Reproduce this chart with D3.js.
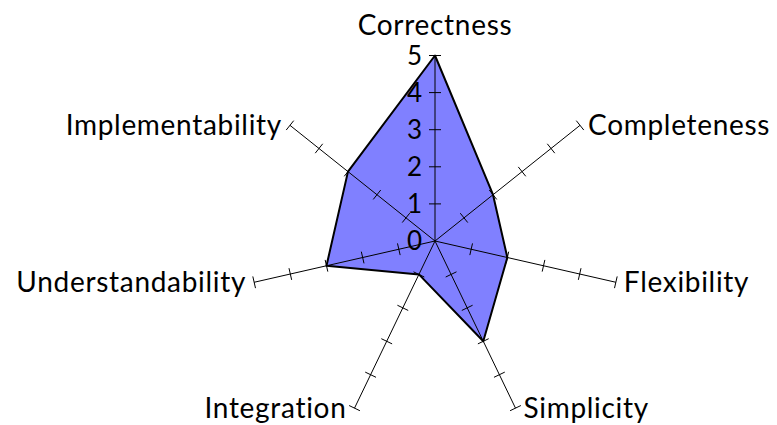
<!DOCTYPE html>
<html>
<head>
<meta charset="utf-8">
<script src="https://cdn.jsdelivr.net/npm/d3@7"></script>
<style>
  body { margin: 0; background: #fff; }
  text { font-family: "Lato", "DejaVu Sans", sans-serif; font-weight: 400; fill: #000; }
</style>
</head>
<body>
<script>
var categories = ["Correctness", "Completeness", "Flexibility", "Simplicity",
                  "Integration", "Understandability", "Implementability"];
var values = [5, 2, 2, 3, 1, 3, 3];
var tickValues = [0, 1, 2, 3, 4, 5];

var width = 777, height = 425;
var cx = 435, cy = 241, radius = 185.5;

var svg = d3.select("body").append("svg")
  .attr("width", width).attr("height", height);

var r = d3.scaleLinear().domain([0, 5]).range([0, radius]);
var angle = d3.scaleLinear().domain([0, categories.length]).range([0, 2 * Math.PI]);

function px(i, v) { return cx + r(v) * Math.sin(angle(i)); }
function py(i, v) { return cy - r(v) * Math.cos(angle(i)); }

var g = svg.append("g");

// filled area
var pts = values.map(function(v, i) { return [px(i, v), py(i, v)]; });
g.append("path")
  .attr("d", d3.line().curve(d3.curveLinearClosed)(pts))
  .attr("fill", "#8080ff")
  .attr("stroke", "#000")
  .attr("stroke-width", 2)
  .attr("stroke-linejoin", "round");

// axes
var axis = g.selectAll(".axis").data(categories).enter().append("g")
  .attr("class", "axis");

axis.append("line")
  .attr("x1", cx).attr("y1", cy)
  .attr("x2", function(d, i) { return px(i, 5); })
  .attr("y2", function(d, i) { return py(i, 5); })
  .attr("stroke", "#000").attr("stroke-width", 1);

// tick marks across each axis
axis.each(function(d, i) {
  var a = angle(i);
  var nx = Math.cos(a) * 6, ny = Math.sin(a) * 6;
  d3.select(this).selectAll("line.tick").data(tickValues.slice(1)).enter()
    .append("line").attr("class", "tick")
    .attr("x1", function(t) { return px(i, t) - nx; })
    .attr("y1", function(t) { return py(i, t) - ny; })
    .attr("x2", function(t) { return px(i, t) + nx; })
    .attr("y2", function(t) { return py(i, t) + ny; })
    .attr("stroke", "#000").attr("stroke-width", 1);
});

// category labels
axis.append("text")
  .text(function(d) { return d; })
  .attr("font-size", 28)
  .attr("letter-spacing", 0.7)
  .attr("x", function(d, i) {
    var s = Math.sin(angle(i));
    return px(i, 5) + (Math.abs(s) < 0.01 ? 0 : (s > 0 ? 8 : -8));
  })
  .attr("y", function(d, i) { return i === 0 ? py(i, 5) - 21 : py(i, 5) + 10; })
  .attr("text-anchor", function(d, i) {
    var s = Math.sin(angle(i));
    return Math.abs(s) < 0.01 ? "middle" : (s > 0 ? "start" : "end");
  });

// scale labels on first axis
g.selectAll(".tlabel").data(tickValues).enter().append("text")
  .attr("class", "tlabel")
  .text(function(d) { return d; })
  .attr("font-size", 26)
  .attr("x", cx - 13)
  .attr("y", function(d) { return py(0, d) + 9; })
  .attr("text-anchor", "end");
</script>
</body>
</html>
